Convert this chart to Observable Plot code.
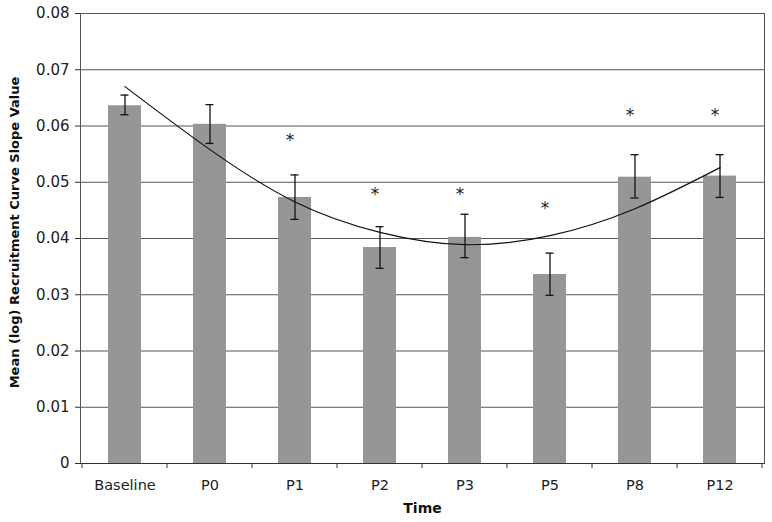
<!DOCTYPE html>
<html>
<head>
<meta charset="utf-8">
<script src="https://cdn.jsdelivr.net/npm/d3@7"></script>
<script src="https://cdn.jsdelivr.net/npm/@observablehq/plot@0.6"></script>
<style>
  html, body { margin: 0; padding: 0; background: #fff; }
  #chart { width: 772px; height: 522px; }
</style>
</head>
<body>
<div id="chart"></div>
<script>
// ---- data ----
const categories = ["Baseline", "P0", "P1", "P2", "P3", "P5", "P8", "P12"];
const means      = [0.0636, 0.0603, 0.0473, 0.0384, 0.0402, 0.0336, 0.0509, 0.0511];
const errLow     = [0.0620, 0.0569, 0.0434, 0.0347, 0.0366, 0.0299, 0.0472, 0.0473];
const errHigh    = [0.0655, 0.0638, 0.0513, 0.0421, 0.0443, 0.0374, 0.0549, 0.0549];
const trend      = [0.0670, 0.0558, 0.0465, 0.0411, 0.0389, 0.0405, 0.0453, 0.0526];
const starCats   = ["P1", "P2", "P3", "P5", "P8", "P12"];
const starY      = [0.0578, 0.0482, 0.0482, 0.0456, 0.0623, 0.0623];
const yTicks     = [0, 0.01, 0.02, 0.03, 0.04, 0.05, 0.06, 0.07, 0.08];
const yTitle     = "Mean (log) Recruitment Curve Slope Value";
const xTitle     = "Time";

const rows = categories.map((c, i) => ({cat: c, mean: means[i], lo: errLow[i], hi: errHigh[i], trend: trend[i]}));
const stars = starCats.map((c, i) => ({cat: c, y: starY[i]}));

const FONT = "DejaVu Sans, Verdana, sans-serif";

// boundary tick marks of the band axis (Excel style), using Plot's x scale
function bandBoundaryTicks(index, scales, values, dimensions) {
  const x = scales.x;
  const half = x.step() / 2;
  const bw = x.bandwidth();
  const y0 = dimensions.height - dimensions.marginBottom;
  const g = d3.create("svg:g").attr("stroke", "#333").attr("stroke-width", 1);
  const bounds = [x(categories[0]) + bw / 2 - half]
    .concat(categories.map(c => x(c) + bw / 2 + half));
  for (const b of bounds) {
    g.append("line").attr("x1", b).attr("x2", b).attr("y1", y0).attr("y2", y0 + 5);
  }
  return g.node();
}

const plot = Plot.plot({
  width: 772,
  height: 522,
  marginLeft: 80,
  marginRight: 8,
  marginTop: 13,
  marginBottom: 59,
  style: {fontFamily: FONT, background: "#fff", color: "#222"},
  x: {type: "band", domain: categories, paddingInner: 0.61, paddingOuter: 0.305, align: 0.5, label: null},
  y: {domain: [0, 0.08], label: null},
  marks: [
    // gridlines
    Plot.ruleY(yTicks.slice(1), {stroke: "#555", strokeWidth: 1}),
    // bars
    Plot.barY(rows, {x: "cat", y: "mean", fill: "#969696"}),
    // error bars
    Plot.ruleX(rows, {x: "cat", y1: "lo", y2: "hi", stroke: "#111", strokeWidth: 1.3}),
    Plot.tickY(rows, {x: "cat", y: "lo", stroke: "#111", strokeWidth: 1.3, inset: 12.5}),
    Plot.tickY(rows, {x: "cat", y: "hi", stroke: "#111", strokeWidth: 1.3, inset: 12.5}),
    // polynomial trendline
    Plot.line(rows, {x: "cat", y: "trend", curve: "natural", stroke: "#111", strokeWidth: 1.2}),
    // significance asterisks
    Plot.text(stars, {x: "cat", y: "y", text: () => "*", fontSize: 17, dx: -5, dy: 2, fill: "#222"}),
    // plot-area border and axis line
    Plot.frame({stroke: "#555", strokeWidth: 1}),
    Plot.ruleY([0], {stroke: "#333", strokeWidth: 1.2}),
    // y axis
    Plot.axisY({ticks: yTicks, tickSize: 5, tickPadding: 6, fontSize: 15, tickFormat: d => d === 0 ? "0" : d.toFixed(2), label: null, stroke: "#333"}),
    // x axis labels
    Plot.axisX({tickSize: 0, tickPadding: 16, fontSize: 14.5, label: null}),
    bandBoundaryTicks,
    // axis titles
    Plot.text([yTitle], {text: d => d, frameAnchor: "left", textAnchor: "middle", rotate: -90, dx: -66, dy: -6, fontSize: 13, fontWeight: "bold", fill: "#111"}),
    Plot.text([xTitle], {text: d => d, frameAnchor: "bottom", textAnchor: "middle", dy: 49, fontSize: 14, fontWeight: "bold", fill: "#111"})
  ]
});

document.getElementById("chart").appendChild(plot);
</script>
</body>
</html>
